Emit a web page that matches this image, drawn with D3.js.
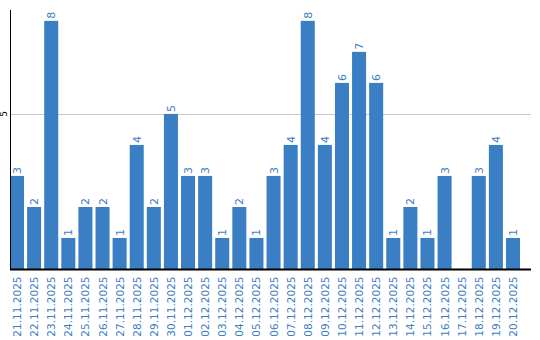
<!DOCTYPE html>
<html lang="en">
<head>
    <meta charset="UTF-8">
    <title>Daily counts</title>
    <script src="https://d3js.org/d3.v7.min.js"></script>
    <style>
        body { margin: 0; background: #fff; }
        text { font-family: "DejaVu Sans", Verdana, sans-serif; }
    </style>
</head>
<body>
<div id="chart"></div>
<script>

    // data
    var days = ["21.11.2025", "22.11.2025", "23.11.2025", "24.11.2025", "25.11.2025",
        "26.11.2025", "27.11.2025", "28.11.2025", "29.11.2025", "30.11.2025",
        "01.12.2025", "02.12.2025", "03.12.2025", "04.12.2025", "05.12.2025",
        "06.12.2025", "07.12.2025", "08.12.2025", "09.12.2025", "10.12.2025",
        "11.12.2025", "12.12.2025", "13.12.2025", "14.12.2025", "15.12.2025",
        "16.12.2025", "17.12.2025", "18.12.2025", "19.12.2025", "20.12.2025"];
    var counts = [3, 2, 8, 1, 2, 2, 1, 4, 2, 5, 3, 3, 1, 2, 1, 3, 4, 8, 4, 6, 7, 6, 1, 2, 1, 3, 0, 3, 4, 1];
    var yTicks = [5];

    // plot box
    var W = 540, H = 340;
    var plotLeft = 10, plotRight = 531, plotTop = 10, plotBottom = 269;
    var blue = "#3a7ec4";

    var svg = d3.select("#chart")
        .append("svg")
        .attr("width", W)
        .attr("height", H);

    var x = d3.scaleBand()
        .domain(days)
        .range([plotLeft, 520])
        .paddingInner(0.18)
        .paddingOuter(0);

    var y = d3.scaleLinear()
        .domain([0, 8.35])
        .range([plotBottom, plotTop]);

    // grid line
    svg.selectAll(".grid")
        .data(yTicks)
        .enter().append("line")
        .attr("x1", plotLeft).attr("x2", plotRight)
        .attr("y1", function (d) { return Math.round(y(d)) + 0.5; })
        .attr("y2", function (d) { return Math.round(y(d)) + 0.5; })
        .attr("stroke", "#c8c8c8")
        .attr("stroke-width", 1);

    // bars
    svg.selectAll(".bar")
        .data(counts)
        .enter().append("rect")
        .attr("x", function (d, i) { return x(days[i]); })
        .attr("y", function (d) { return y(d); })
        .attr("width", x.bandwidth())
        .attr("height", function (d) { return plotBottom - y(d); })
        .attr("fill", blue);

    // value labels, skipped for empty days
    svg.selectAll(".val")
        .data(counts)
        .enter().append("text")
        .attr("transform", function (d, i) {
            return "translate(" + (x(days[i]) + x.bandwidth() / 2 + 4) + "," + (y(d) - 2) + ") rotate(-90)";
        })
        .attr("font-size", "11px")
        .attr("fill", blue)
        .text(function (d) { return d > 0 ? d : ""; });

    // y axis
    svg.append("line")
        .attr("x1", plotLeft + 0.5).attr("x2", plotLeft + 0.5)
        .attr("y1", plotTop).attr("y2", plotBottom + 1)
        .attr("stroke", "#000");

    svg.selectAll(".ytick")
        .data(yTicks)
        .enter().append("text")
        .attr("transform", function (d) { return "translate(7," + y(d) + ") rotate(-90)"; })
        .attr("text-anchor", "middle")
        .attr("font-size", "9px")
        .attr("fill", "#000")
        .text(function (d) { return d; });

    // x axis
    svg.append("line")
        .attr("x1", plotLeft).attr("x2", plotRight)
        .attr("y1", plotBottom + 0.5).attr("y2", plotBottom + 0.5)
        .attr("stroke", "#000")
        .attr("stroke-width", 2);

    svg.selectAll(".xlab")
        .data(days)
        .enter().append("text")
        .attr("transform", function (d) {
            return "translate(" + (x(d) + x.bandwidth() / 2 + 4) + "," + (plotBottom + 7.5) + ") rotate(-90)";
        })
        .attr("text-anchor", "end")
        .attr("font-size", "10.5px")
        .attr("fill", blue)
        .text(function (d) { return d; });

</script>
</body>
</html>
